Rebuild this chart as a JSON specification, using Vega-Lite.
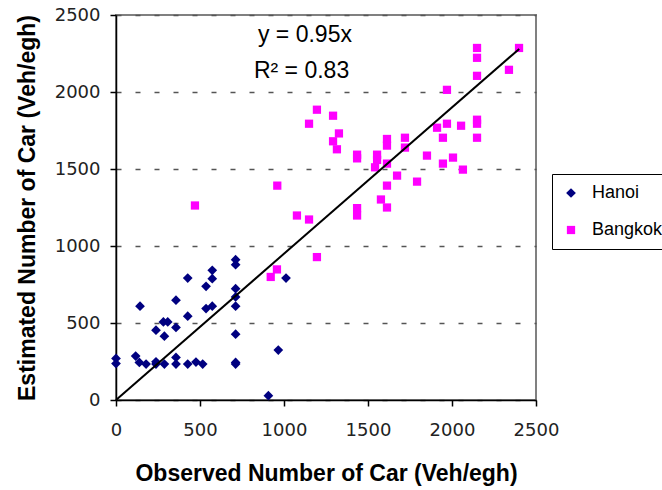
{
  "$schema": "https://vega.github.io/schema/vega-lite/v6.json",
  "width": 420,
  "height": 385,
  "autosize": "none",
  "padding": {"left": 116, "top": 15, "right": 126, "bottom": 90},
  "background": "white",
  "config": {
    "view": {"stroke": "#808080", "strokeWidth": 2},
    "font": "Liberation Sans"
  },
  "layer": [
    {
      "data": {
        "values": [
          {"city": "Hanoi", "obs": 0, "est": 270},
          {"city": "Hanoi", "obs": 0, "est": 237},
          {"city": "Hanoi", "obs": 117, "est": 285},
          {"city": "Hanoi", "obs": 139, "est": 244},
          {"city": "Hanoi", "obs": 179, "est": 233},
          {"city": "Hanoi", "obs": 238, "est": 248},
          {"city": "Hanoi", "obs": 238, "est": 233},
          {"city": "Hanoi", "obs": 288, "est": 233},
          {"city": "Hanoi", "obs": 357, "est": 276},
          {"city": "Hanoi", "obs": 357, "est": 233},
          {"city": "Hanoi", "obs": 427, "est": 233},
          {"city": "Hanoi", "obs": 476, "est": 246},
          {"city": "Hanoi", "obs": 516, "est": 233},
          {"city": "Hanoi", "obs": 712, "est": 244},
          {"city": "Hanoi", "obs": 712, "est": 233},
          {"city": "Hanoi", "obs": 143, "est": 609},
          {"city": "Hanoi", "obs": 238, "est": 453},
          {"city": "Hanoi", "obs": 282, "est": 507},
          {"city": "Hanoi", "obs": 308, "est": 507},
          {"city": "Hanoi", "obs": 288, "est": 414},
          {"city": "Hanoi", "obs": 357, "est": 648},
          {"city": "Hanoi", "obs": 357, "est": 471},
          {"city": "Hanoi", "obs": 427, "est": 544},
          {"city": "Hanoi", "obs": 427, "est": 792},
          {"city": "Hanoi", "obs": 536, "est": 738},
          {"city": "Hanoi", "obs": 573, "est": 842},
          {"city": "Hanoi", "obs": 573, "est": 788},
          {"city": "Hanoi", "obs": 536, "est": 594},
          {"city": "Hanoi", "obs": 573, "est": 609},
          {"city": "Hanoi", "obs": 712, "est": 911},
          {"city": "Hanoi", "obs": 712, "est": 879},
          {"city": "Hanoi", "obs": 712, "est": 723},
          {"city": "Hanoi", "obs": 712, "est": 669},
          {"city": "Hanoi", "obs": 712, "est": 609},
          {"city": "Hanoi", "obs": 712, "est": 427},
          {"city": "Hanoi", "obs": 1012, "est": 792},
          {"city": "Hanoi", "obs": 966, "est": 324},
          {"city": "Hanoi", "obs": 907, "est": 28},
          {"city": "Bangkok", "obs": 921, "est": 799},
          {"city": "Bangkok", "obs": 958, "est": 848},
          {"city": "Bangkok", "obs": 1196, "est": 928},
          {"city": "Bangkok", "obs": 960, "est": 1392},
          {"city": "Bangkok", "obs": 470, "est": 1263},
          {"city": "Bangkok", "obs": 1077, "est": 1198},
          {"city": "Bangkok", "obs": 1149, "est": 1172},
          {"city": "Bangkok", "obs": 1149, "est": 1794},
          {"city": "Bangkok", "obs": 1196, "est": 1885},
          {"city": "Bangkok", "obs": 1292, "est": 1846},
          {"city": "Bangkok", "obs": 1327, "est": 1731},
          {"city": "Bangkok", "obs": 1292, "est": 1680},
          {"city": "Bangkok", "obs": 1315, "est": 1628},
          {"city": "Bangkok", "obs": 1435, "est": 1593},
          {"city": "Bangkok", "obs": 1435, "est": 1569},
          {"city": "Bangkok", "obs": 1435, "est": 1246},
          {"city": "Bangkok", "obs": 1435, "est": 1198},
          {"city": "Bangkok", "obs": 1542, "est": 1511},
          {"city": "Bangkok", "obs": 1554, "est": 1593},
          {"city": "Bangkok", "obs": 1554, "est": 1559},
          {"city": "Bangkok", "obs": 1613, "est": 1695},
          {"city": "Bangkok", "obs": 1613, "est": 1652},
          {"city": "Bangkok", "obs": 1613, "est": 1535},
          {"city": "Bangkok", "obs": 1613, "est": 1392},
          {"city": "Bangkok", "obs": 1577, "est": 1302},
          {"city": "Bangkok", "obs": 1613, "est": 1250},
          {"city": "Bangkok", "obs": 1673, "est": 1457},
          {"city": "Bangkok", "obs": 1720, "est": 1703},
          {"city": "Bangkok", "obs": 1720, "est": 1639},
          {"city": "Bangkok", "obs": 1792, "est": 1418},
          {"city": "Bangkok", "obs": 1851, "est": 1587},
          {"city": "Bangkok", "obs": 1911, "est": 1768},
          {"city": "Bangkok", "obs": 1946, "est": 1703},
          {"city": "Bangkok", "obs": 1970, "est": 1794},
          {"city": "Bangkok", "obs": 1946, "est": 1535},
          {"city": "Bangkok", "obs": 2006, "est": 1574},
          {"city": "Bangkok", "obs": 1970, "est": 2014},
          {"city": "Bangkok", "obs": 2054, "est": 1781},
          {"city": "Bangkok", "obs": 2065, "est": 1496},
          {"city": "Bangkok", "obs": 2149, "est": 2286},
          {"city": "Bangkok", "obs": 2149, "est": 2222},
          {"city": "Bangkok", "obs": 2149, "est": 2105},
          {"city": "Bangkok", "obs": 2149, "est": 1820},
          {"city": "Bangkok", "obs": 2149, "est": 1794},
          {"city": "Bangkok", "obs": 2149, "est": 1703},
          {"city": "Bangkok", "obs": 2339, "est": 2144},
          {"city": "Bangkok", "obs": 2399, "est": 2286}
        ]
      },
      "mark": {"type": "point", "filled": true, "opacity": 1, "strokeWidth": 0},
      "encoding": {
        "x": {
          "field": "obs", "type": "quantitative",
          "scale": {"domain": [0, 2500], "nice": false},
          "axis": {
            "values": [0, 500, 1000, 1500, 2000, 2500],
            "format": "d",
            "title": "Observed Number of Car (Veh/egh)",
            "grid": false,
            "domainColor": "black", "domainWidth": 1.5,
            "tickColor": "black", "tickWidth": 1.5, "tickSize": 6,
            "labelFont": "DejaVu Sans", "labelFontSize": 18, "labelColor": "#222",
            "labelPadding": 15, "labelFlush": false,
            "titleFont": "Liberation Sans", "titleFontSize": 23, "titleFontWeight": "bold",
            "titleColor": "black", "titleBaseline": "alphabetic", "titleY": 80
          }
        },
        "y": {
          "field": "est", "type": "quantitative",
          "scale": {"domain": [0, 2500], "nice": false},
          "axis": {
            "values": [0, 500, 1000, 1500, 2000, 2500],
            "format": "d",
            "title": "Estimated Number of Car (Veh/egh)",
            "grid": true, "gridColor": "#555", "gridDash": [5, 14], "gridWidth": 1.5,
            "domainColor": "black", "domainWidth": 1.5,
            "tickColor": "black", "tickWidth": 1.5, "tickSize": 6,
            "labelFont": "DejaVu Sans", "labelFontSize": 18, "labelColor": "#222",
            "labelPadding": 10, "labelFlush": false,
            "titleFont": "Liberation Sans", "titleFontSize": 23, "titleFontWeight": "bold",
            "titleColor": "black", "titleBaseline": "alphabetic", "titleX": -82
          }
        },
        "color": {
          "field": "city", "type": "nominal",
          "scale": {"domain": ["Hanoi", "Bangkok"], "range": ["#000080", "#FF00FF"]},
          "legend": {
            "title": null,
            "orient": "none", "legendX": 436, "legendY": 159,
            "strokeColor": "black", "padding": 10,
            "labelFont": "Liberation Sans", "labelFontSize": 18, "labelColor": "black",
            "labelOffset": 12, "rowPadding": 19, "symbolSize": 42
          }
        },
        "shape": {
          "field": "city", "type": "nominal",
          "scale": {"domain": ["Hanoi", "Bangkok"], "range": ["diamond", "square"]}
        },
        "size": {
          "field": "city", "type": "nominal",
          "scale": {"domain": ["Hanoi", "Bangkok"], "range": [95, 68]},
          "legend": null
        }
      }
    },
    {
      "data": {"values": [{"obs": 0, "est": 0}, {"obs": 2400, "est": 2280}]},
      "mark": {"type": "line", "color": "black", "strokeWidth": 2},
      "encoding": {
        "x": {"field": "obs", "type": "quantitative"},
        "y": {"field": "est", "type": "quantitative"}
      }
    },
    {
      "data": {"values": [
        {"obs": 845, "est": 2325, "label": "y = 0.95x"},
        {"obs": 821, "est": 2091, "label": "R² = 0.83"}
      ]},
      "mark": {"type": "text", "align": "left", "baseline": "alphabetic", "font": "Liberation Sans", "fontSize": 23, "color": "black"},
      "encoding": {
        "x": {"field": "obs", "type": "quantitative"},
        "y": {"field": "est", "type": "quantitative"},
        "text": {"field": "label"}
      }
    }
  ]
}
